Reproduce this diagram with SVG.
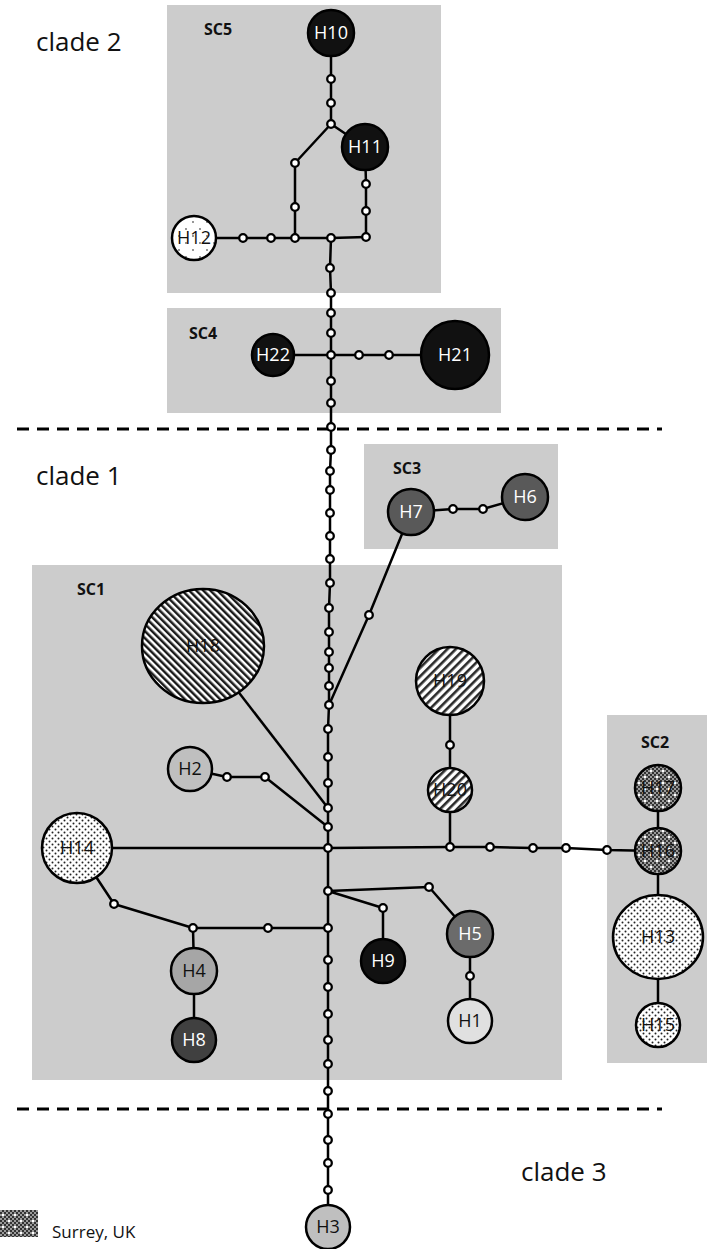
<svg xmlns="http://www.w3.org/2000/svg" width="710" height="1249" viewBox="0 0 710 1249">
<style>
.box{fill:#cccccc}
.dash{stroke:#000;stroke-width:3;stroke-dasharray:12 8;fill:none}
.e{stroke:#000;stroke-width:2.5;fill:none;stroke-linejoin:round}
.n{stroke:#000;stroke-width:2.5}
.s{fill:#fff;stroke:#000;stroke-width:2.3}
text{font-family:"Open Sans","Liberation Sans",sans-serif}
.lw{fill:#fff;font-size:18px;text-anchor:middle}
.lb{fill:#111;font-size:18px;text-anchor:middle}
.sc{fill:#111;font-size:16px;font-weight:bold}
.clade{fill:#111;font-size:26px}
.leg{fill:#111;font-size:17px}
</style>
<defs>
<pattern id="stripeB" width="5" height="5" patternUnits="userSpaceOnUse" patternTransform="rotate(-45)"><rect width="5" height="5" fill="#fff"/><rect width="2.5" height="5" fill="#1a1a1a"/></pattern>
<pattern id="stripeF" width="6" height="6" patternUnits="userSpaceOnUse" patternTransform="rotate(45)"><rect width="6" height="6" fill="#fff"/><rect width="2.6" height="6" fill="#2a2a2a"/></pattern>
<pattern id="dots" width="6" height="6" patternUnits="userSpaceOnUse"><rect width="6" height="6" fill="#fff"/><circle cx="1.5" cy="1.5" r="1" fill="#222"/><circle cx="4.5" cy="4.5" r="1" fill="#222"/></pattern>
<pattern id="checker" width="4" height="4" patternUnits="userSpaceOnUse"><rect width="4" height="4" fill="#9a9a9a"/><rect width="2" height="2" fill="#333"/><rect x="2" y="2" width="2" height="2" fill="#333"/></pattern>
<pattern id="surrey" width="12" height="12" patternUnits="userSpaceOnUse"><rect width="12" height="12" fill="url(#checker)"/><rect x="2" y="2" width="2" height="2" fill="#fff"/><rect x="8" y="8" width="2" height="2" fill="#fff"/></pattern>
<pattern id="sparse" width="14" height="14" patternUnits="userSpaceOnUse"><rect width="14" height="14" fill="#fff"/><circle cx="4" cy="5" r="0.9" fill="#666"/><circle cx="11" cy="12" r="0.9" fill="#666"/></pattern>
</defs>

<g id="boxes">
<rect class="box" x="167" y="5" width="274" height="288"/>
<rect class="box" x="167" y="308" width="334" height="105"/>
<rect class="box" x="364" y="444" width="194" height="105"/>
<rect class="box" x="32" y="565" width="530" height="515"/>
<rect class="box" x="607" y="715" width="100" height="348"/>
</g>

<g id="dividers">
<line class="dash" x1="17" y1="429" x2="662" y2="429"/>
<line class="dash" x1="17" y1="1109" x2="662" y2="1109"/>
</g>

<g id="connectors">
<polyline class="e" points="331,33 331,79 331,103 331,124 365,147"/>
<polyline class="e" points="331,124 295,163 295,207 295,238"/>
<polyline class="e" points="365,147 366,184 366,211 366,237"/>
<polyline class="e" points="194,238 243,238 271,238 295,238 331,238 366,237"/>
<polyline class="e" points="331,238 330,268 331,293 331,313 331,333 331,355"/>
<polyline class="e" points="273,355 331,355 359,355 389,355 455,355"/>
<polyline class="e" points="331,355 331,381 331,403 331,427 331,450 330,471 330,490 330,513 330,536 330,559 330,583 329,608 329,632 329,652 329,668 329,686 329,705 328,729 328,757 328,783 328,808 328,827 328,848 328,891 328,928 328,960 328,987 328,1014 328,1040 328,1064 328,1091 328,1114 328,1140 328,1163 328,1190 328,1227"/>
<polyline class="e" points="329,705 369,615 411,512 453,509 483,509 525,497"/>
<polyline class="e" points="203,646 328,808"/>
<polyline class="e" points="190,769 227,777 265,777 328,827"/>
<polyline class="e" points="77,848 328,848 450,847 490,847 533,848 566,848 607,850 658,851"/>
<polyline class="e" points="450,847 450,790 450,745 450,681"/>
<polyline class="e" points="658,788 658,851 658,937 658,1025"/>
<polyline class="e" points="328,891 429,887 470,934 470,976 470,1021"/>
<polyline class="e" points="328,891 383,908 383,961"/>
<polyline class="e" points="328,928 268,928 193,928 114,904 77,848"/>
<polyline class="e" points="193,928 194,971 194,1040"/>
</g>

<g id="H10"><circle class="n" cx="331" cy="33" r="23" fill="#111"/><text class="lw" x="331" y="39">H10</text></g>
<g id="H11"><circle class="n" cx="365" cy="147" r="23" fill="#111"/><text class="lw" x="365" y="153">H11</text></g>
<g id="H12"><circle class="n" cx="194" cy="238" r="22" fill="url(#sparse)"/><text class="lb" x="194" y="244">H12</text></g>
<g id="H22"><circle class="n" cx="273" cy="355" r="21" fill="#111"/><text class="lw" x="273" y="361">H22</text></g>
<g id="H21"><circle class="n" cx="455" cy="355" r="34" fill="#111"/><text class="lw" x="455" y="361">H21</text></g>
<g id="H7"><circle class="n" cx="411" cy="512" r="23" fill="#595959"/><text class="lw" x="411" y="518">H7</text></g>
<g id="H6"><circle class="n" cx="525" cy="497" r="23" fill="#595959"/><text class="lw" x="525" y="503">H6</text></g>
<g id="H18"><ellipse class="n" cx="203" cy="646" rx="61" ry="57" fill="url(#stripeB)"/><text class="lb" x="203" y="652">H18</text></g>
<g id="H19"><circle class="n" cx="450" cy="681" r="34" fill="url(#stripeF)"/><text class="lb" x="450" y="687">H19</text></g>
<g id="H20"><circle class="n" cx="450" cy="790" r="22" fill="url(#stripeF)"/><text class="lb" x="450" y="796">H20</text></g>
<g id="H2"><circle class="n" cx="190" cy="769" r="22" fill="#bfbfbf"/><text class="lb" x="190" y="775">H2</text></g>
<g id="H14"><circle class="n" cx="77" cy="848" r="35" fill="url(#dots)"/><text class="lb" x="77" y="854">H14</text></g>
<g id="H4"><circle class="n" cx="194" cy="971" r="23" fill="#a6a6a6"/><text class="lb" x="194" y="977">H4</text></g>
<g id="H8"><circle class="n" cx="194" cy="1040" r="22" fill="#404040"/><text class="lw" x="194" y="1046">H8</text></g>
<g id="H9"><circle class="n" cx="383" cy="961" r="22" fill="#111"/><text class="lw" x="383" y="967">H9</text></g>
<g id="H5"><circle class="n" cx="470" cy="934" r="23" fill="#6b6b6b"/><text class="lw" x="470" y="940">H5</text></g>
<g id="H1"><circle class="n" cx="470" cy="1021" r="22" fill="#e0e0e0"/><text class="lb" x="470" y="1027">H1</text></g>
<g id="H17"><circle class="n" cx="658" cy="788" r="23" fill="url(#surrey)"/><text class="lb" x="658" y="794">H17</text></g>
<g id="H16"><circle class="n" cx="658" cy="851" r="23" fill="url(#surrey)"/><text class="lb" x="658" y="857">H16</text></g>
<g id="H13"><ellipse class="n" cx="658" cy="937" rx="45" ry="42" fill="url(#dots)"/><text class="lb" x="658" y="943">H13</text></g>
<g id="H15"><circle class="n" cx="658" cy="1025" r="22" fill="url(#dots)"/><text class="lb" x="658" y="1031">H15</text></g>
<g id="H3"><circle class="n" cx="328" cy="1227" r="22" fill="#bfbfbf"/><text class="lb" x="328" y="1233">H3</text></g>

<g id="steps">
<circle class="s" cx="331" cy="79" r="3.8"/><circle class="s" cx="331" cy="103" r="3.8"/><circle class="s" cx="331" cy="124" r="3.8"/>
<circle class="s" cx="295" cy="163" r="3.8"/><circle class="s" cx="295" cy="207" r="3.8"/><circle class="s" cx="295" cy="238" r="3.8"/>
<circle class="s" cx="243" cy="238" r="3.8"/><circle class="s" cx="271" cy="238" r="3.8"/><circle class="s" cx="331" cy="238" r="3.8"/>
<circle class="s" cx="366" cy="237" r="3.8"/><circle class="s" cx="366" cy="184" r="3.8"/><circle class="s" cx="366" cy="211" r="3.8"/>
<circle class="s" cx="330" cy="268" r="3.8"/><circle class="s" cx="331" cy="293" r="3.8"/>
<circle class="s" cx="331" cy="313" r="3.8"/><circle class="s" cx="331" cy="333" r="3.8"/><circle class="s" cx="331" cy="355" r="3.8"/>
<circle class="s" cx="359" cy="355" r="3.8"/><circle class="s" cx="389" cy="355" r="3.8"/>
<circle class="s" cx="331" cy="381" r="3.8"/><circle class="s" cx="331" cy="403" r="3.8"/><circle class="s" cx="331" cy="427" r="3.8"/>
<circle class="s" cx="331" cy="450" r="3.8"/><circle class="s" cx="330" cy="471" r="3.8"/><circle class="s" cx="330" cy="490" r="3.8"/>
<circle class="s" cx="330" cy="513" r="3.8"/><circle class="s" cx="330" cy="536" r="3.8"/><circle class="s" cx="330" cy="559" r="3.8"/>
<circle class="s" cx="330" cy="583" r="3.8"/><circle class="s" cx="329" cy="608" r="3.8"/><circle class="s" cx="329" cy="632" r="3.8"/>
<circle class="s" cx="329" cy="652" r="3.8"/><circle class="s" cx="329" cy="668" r="3.8"/><circle class="s" cx="329" cy="686" r="3.8"/>
<circle class="s" cx="329" cy="705" r="3.8"/><circle class="s" cx="328" cy="729" r="3.8"/><circle class="s" cx="328" cy="757" r="3.8"/>
<circle class="s" cx="328" cy="783" r="3.8"/><circle class="s" cx="328" cy="808" r="3.8"/><circle class="s" cx="328" cy="827" r="3.8"/>
<circle class="s" cx="328" cy="848" r="3.8"/><circle class="s" cx="328" cy="891" r="3.8"/><circle class="s" cx="328" cy="928" r="3.8"/>
<circle class="s" cx="328" cy="960" r="3.8"/><circle class="s" cx="328" cy="987" r="3.8"/><circle class="s" cx="328" cy="1014" r="3.8"/>
<circle class="s" cx="328" cy="1040" r="3.8"/><circle class="s" cx="328" cy="1064" r="3.8"/><circle class="s" cx="328" cy="1091" r="3.8"/>
<circle class="s" cx="328" cy="1114" r="3.8"/><circle class="s" cx="328" cy="1140" r="3.8"/><circle class="s" cx="328" cy="1163" r="3.8"/>
<circle class="s" cx="328" cy="1190" r="3.8"/>
<circle class="s" cx="453" cy="509" r="3.8"/><circle class="s" cx="483" cy="509" r="3.8"/><circle class="s" cx="369" cy="615" r="3.8"/>
<circle class="s" cx="227" cy="777" r="3.8"/><circle class="s" cx="265" cy="777" r="3.8"/>
<circle class="s" cx="450" cy="847" r="3.8"/><circle class="s" cx="490" cy="847" r="3.8"/><circle class="s" cx="533" cy="848" r="3.8"/>
<circle class="s" cx="566" cy="848" r="3.8"/><circle class="s" cx="607" cy="850" r="3.8"/><circle class="s" cx="450" cy="745" r="3.8"/>
<circle class="s" cx="429" cy="887" r="3.8"/><circle class="s" cx="383" cy="908" r="3.8"/><circle class="s" cx="470" cy="976" r="3.8"/>
<circle class="s" cx="114" cy="904" r="3.8"/><circle class="s" cx="193" cy="928" r="3.8"/><circle class="s" cx="268" cy="928" r="3.8"/>
</g>

<g id="labels">
<text class="sc" x="204" y="35">SC5</text>
<text class="sc" x="189" y="339">SC4</text>
<text class="sc" x="393" y="474">SC3</text>
<text class="sc" x="77" y="595">SC1</text>
<text class="sc" x="641" y="748">SC2</text>
<text class="clade" x="36" y="51">clade 2</text>
<text class="clade" x="36" y="485">clade 1</text>
<text class="clade" x="521" y="1181">clade 3</text>
</g>

<g id="legend">
<rect x="0" y="1210" width="38" height="27" fill="url(#surrey)"/>
<text class="leg" x="52" y="1238">Surrey, UK</text>
</g>
</svg>
